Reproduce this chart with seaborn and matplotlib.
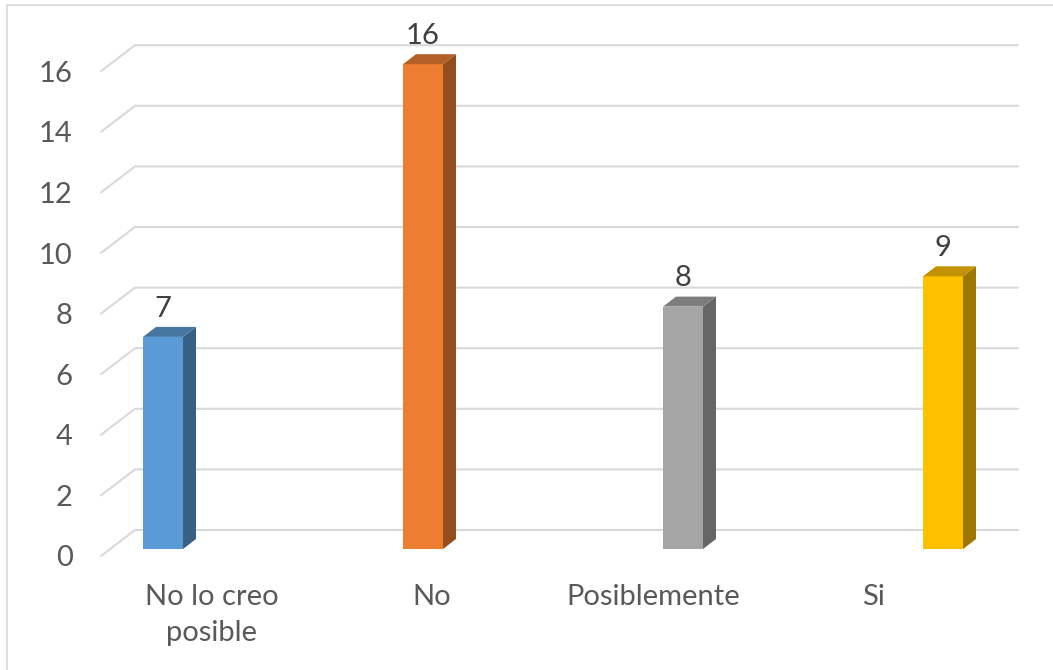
import matplotlib
matplotlib.use("Agg")
import matplotlib.pyplot as plt
from matplotlib.patches import Polygon, Rectangle
import numpy as np
import seaborn as sns

categories = ["No lo creo\nposible", "No", "Posiblemente", "Si"]
values = [7, 16, 8, 9]
bar_colors = ["#5B9BD5", "#ED7D31", "#A5A5A5", "#FFC000"]
y_ticks = list(range(0, 17, 2))

W, H, DPI = 1053, 670, 100
# layout in pixels (y measured from the top of the image)
FRONT_LEFT, FRONT_RIGHT = 101, 984
FLOOR_Y = 556
PX_PER_UNIT = 30.3
WALL_DX, WALL_DY = 34, 26
WALL_RIGHT = 1018
BAR_SHIFT = (9, 7)
BAR_FIRST, BAR_STEP, BAR_W = 163, 260, 40
BAR_DEPTH = (13, 10)
GRID_COLOR = "#d9d9d9"
FONT_SIZE = 21

sns.set_style("white")
plt.rcParams["font.family"] = ["Lato", "DejaVu Sans"]


def px_box(left, bottom_y, width, height):
    return [left / W, (H - bottom_y) / H, width / W, height / H]


fig = plt.figure(figsize=(W / DPI, H / DPI), dpi=DPI)
ymax = y_ticks[-1]
ax_w = FRONT_RIGHT - FRONT_LEFT
ax_h = ymax * PX_PER_UNIT
ax = fig.add_axes(px_box(FRONT_LEFT, FLOOR_Y, ax_w, ax_h))
ax_bar = fig.add_axes(px_box(FRONT_LEFT + BAR_SHIFT[0], FLOOR_Y - BAR_SHIFT[1], ax_w, ax_h))

# %% floor / back wall grid
n = len(categories)
ax.set_xlim(-0.5, n - 0.5)
ax.set_ylim(0, ymax)
ux = ax_w / n
wdx, wdy = WALL_DX / ux, WALL_DY / PX_PER_UNIT
x_end = -0.5 + (WALL_RIGHT - FRONT_LEFT) / ux
for v in y_ticks:
    ax.plot([-0.5, -0.5 + wdx, x_end], [v, v + wdy, v + wdy],
            color=GRID_COLOR, lw=1.5, clip_on=False, zorder=0)

ax.set_yticks(y_ticks)
ax.set_xticks(range(n), categories)
ax.tick_params(axis="y", length=0, pad=20.5, labelsize=FONT_SIZE, labelcolor="#595959")
ax.tick_params(axis="x", length=0, pad=20, labelsize=FONT_SIZE, labelcolor="#595959")
for lbl in ax.get_xticklabels():
    lbl.set_linespacing(1.5)
for s in ax.spines.values():
    s.set_visible(False)
ax.set_facecolor("none")

# %% bars
sns.barplot(x=list(range(n)), y=values, hue=list(range(n)), palette=bar_colors,
            saturation=1, width=BAR_W / BAR_STEP, legend=False, linewidth=0,
            native_scale=False, ax=ax_bar)
x0 = -(BAR_FIRST - (FRONT_LEFT + BAR_SHIFT[0])) / BAR_STEP
ax_bar.set_xlim(x0, x0 + ax_w / BAR_STEP)
ax_bar.set_ylim(0, ymax)
ax_bar.axis("off")

ddx = BAR_DEPTH[0] / BAR_STEP
ddy = BAR_DEPTH[1] / PX_PER_UNIT
for patch in list(ax_bar.patches):
    xl = patch.get_x()
    xr = xl + patch.get_width()
    h = patch.get_height()
    rgb = np.array(patch.get_facecolor()[:3])
    side = Polygon([(xr, 0), (xr + ddx, ddy), (xr + ddx, h + ddy), (xr, h)],
                   closed=True, fc=rgb * 0.62, ec="none", clip_on=False)
    top = Polygon([(xl, h), (xr, h), (xr + ddx, h + ddy), (xl + ddx, h + ddy)],
                  closed=True, fc=rgb * 0.76, ec="none", clip_on=False)
    ax_bar.add_patch(side)
    ax_bar.add_patch(top)
    ax_bar.annotate(f"{h:g}", ((xl + xr) / 2, h), xytext=(0, 14.5),
                    textcoords="offset points", ha="center", va="baseline",
                    fontsize=FONT_SIZE, color="#404040", annotation_clip=False)

# chart area border
fig.add_artist(Rectangle((7 / W, -0.05), 1.0, (H - 5) / H + 0.05,
                         transform=fig.transFigure, fill=False,
                         ec=GRID_COLOR, lw=1.2))

fig.savefig("out.png", dpi=DPI)
